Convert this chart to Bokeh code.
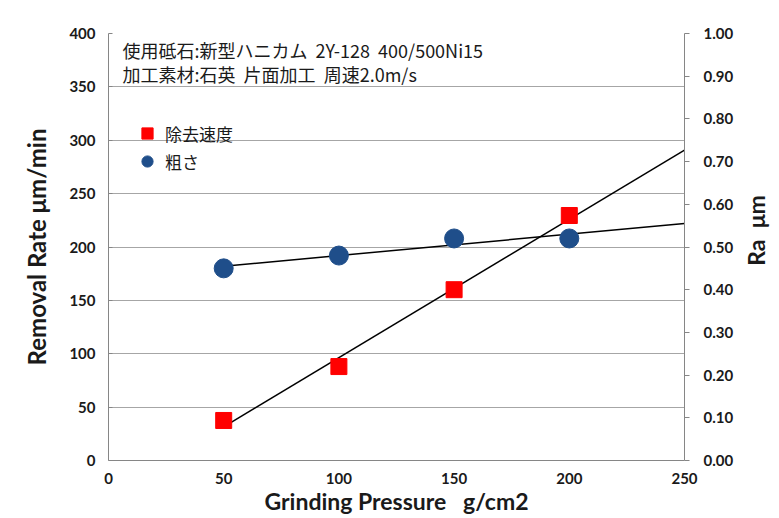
import math
import numpy as np
from bokeh.plotting import figure
from bokeh.models import (Range1d, LinearAxis, Legend, LegendItem, Label,
                          NumeralTickFormatter, FixedTicker)
from bokeh.embed import file_html
from bokeh.resources import INLINE

# ---- data ----
pressure = [50, 100, 150, 200]
removal_rate = [37.5, 88, 160, 229.5]
roughness = [0.45, 0.48, 0.52, 0.52]
trend_x = [50, 250]
x_ticks = [0, 50, 100, 150, 200, 250]
y_ticks = [0, 50, 100, 150, 200, 250, 300, 350, 400]
ra_ticks = [0.0, 0.1, 0.2, 0.3, 0.4, 0.5, 0.6, 0.7, 0.8, 0.9, 1.0]
series_names = ["除去速度", "粗さ"]
NB = "\u00a0"
notes = ["使用砥石:新型ハニカム" + NB * 2 + "2Y-128" + NB * 2 + "400/500Ni15",
         "加工素材:石英" + NB * 2 + "片面加工" + NB * 2 + "周速2.0m/s"]
x_title = "Grinding Pressure" + NB * 3 + "g/cm2"
y_title = "Removal Rate μm/min"
ra_title = "Ra" + NB * 2 + "μm"

# linear trendlines (least squares fit of the data)
m1, b1 = np.polyfit(pressure, removal_rate, 1)
m2, b2 = np.polyfit(pressure, roughness, 1)
trend_rr = [m1 * x + b1 for x in trend_x]
trend_ra = [m2 * x + b2 for x in trend_x]

AX_FONT = "Lato"
TXT = "#1a1a1a"
GRID = "#a6a6a6"

p = figure(frame_width=576, frame_height=427, output_backend="svg",
           toolbar_location=None, x_range=Range1d(0, 250), y_range=Range1d(0, 400),
           min_border_left=108, min_border_right=87, min_border_top=33,
           min_border_bottom=50, background_fill_color="white",
           border_fill_color="white")
p.outline_line_color = None
p.extra_y_ranges = {"ra": Range1d(0, 1)}

p.xgrid.grid_line_color = None
p.ygrid.ticker = FixedTicker(ticks=y_ticks)
p.ygrid.grid_line_color = GRID
p.ygrid.grid_line_width = 1

# x axis
xa = p.xaxis[0]
xa.ticker = FixedTicker(ticks=x_ticks)
xa.axis_label = x_title
xa.major_tick_out = 0
xa.major_tick_in = 0
xa.minor_tick_out = 0
xa.minor_tick_in = 0
xa.axis_line_color = "#868686"
xa.major_label_standoff = 12
xa.axis_label_standoff = 0

# left axis
ya = p.yaxis[0]
ya.ticker = FixedTicker(ticks=y_ticks)
ya.axis_label = y_title
ya.major_tick_out = 0
ya.major_tick_in = 4
ya.minor_tick_out = 0
ya.minor_tick_in = 0
ya.axis_line_color = "#868686"
ya.major_tick_line_color = "#868686"
ya.major_label_standoff = 13
ya.axis_label_standoff = 15

# right axis
ra = LinearAxis(y_range_name="ra", ticker=FixedTicker(ticks=ra_ticks),
                formatter=NumeralTickFormatter(format="0.00"))
ra.major_tick_out = 5
ra.major_tick_in = 0
ra.minor_tick_out = 0
ra.minor_tick_in = 0
ra.axis_line_color = "#868686"
ra.major_tick_line_color = "#868686"
ra.major_label_standoff = 14
p.add_layout(ra, "right")

for ax in (xa, ya, ra):
    ax.major_label_text_font = AX_FONT
    ax.major_label_text_font_style = "bold"
    ax.major_label_text_font_size = "15px"
    ax.major_label_text_color = TXT
    ax.axis_label_text_font = AX_FONT
    ax.axis_label_text_font_style = "bold"
    ax.axis_label_text_color = TXT
xa.axis_label_text_font_size = "23px"
ya.axis_label_text_font_size = "24px"

# right axis title in the right side panel
p.add_layout(Label(x=19, y=230, x_units="screen", y_units="screen", text=ra_title,
                   angle=math.pi / 2, text_align="center", text_baseline="middle",
                   text_font=AX_FONT, text_font_style="bold", text_font_size="23px",
                   text_color=TXT), "right")

# trendlines
p.line(trend_x, trend_rr, line_color="black", line_width=1.5)
p.line(trend_x, trend_ra, line_color="black", line_width=1.5, y_range_name="ra")

# markers
r_sq = p.scatter(pressure, removal_rate, marker="square", size=16,
                 fill_color="#ff0000", line_color="#ff0000")
r_ci = p.scatter(pressure, roughness, marker="circle", size=19,
                 fill_color="#1f4e8a", line_color="#1f4e8a", y_range_name="ra")

legend = Legend(items=[LegendItem(label=series_names[0], renderers=[r_sq]),
                       LegendItem(label=series_names[1], renderers=[r_ci])],
                location=(25, 285), background_fill_alpha=0, border_line_alpha=0,
                label_text_font="Noto Sans CJK JP", label_text_font_size="17px",
                label_text_color=TXT, glyph_width=28, glyph_height=28,
                label_height=28, spacing=0, padding=0, margin=0, label_standoff=4)
p.add_layout(legend)

for text, yv in zip(notes, [384.5, 362.5]):
    p.add_layout(Label(x=6.1, y=yv, text=text, text_font="Noto Sans CJK JP",
                       text_font_size="18px", text_color=TXT, text_baseline="middle"))

open("out.html", "w").write(file_html(p, INLINE))
